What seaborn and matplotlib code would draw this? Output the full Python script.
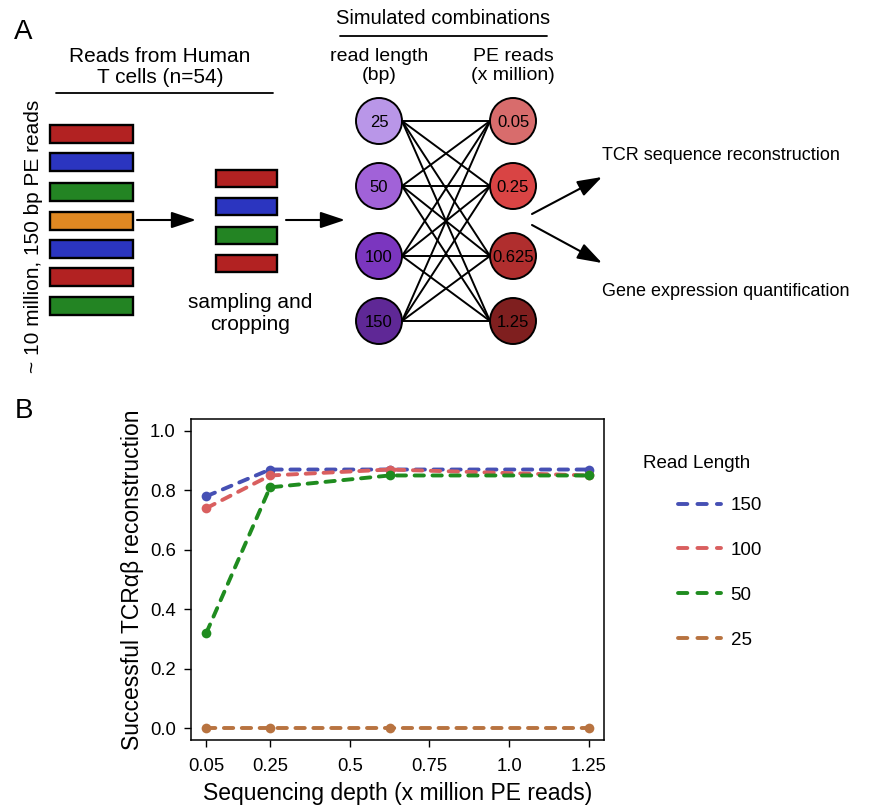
import numpy as np
import pandas as pd
import matplotlib
matplotlib.use("Agg")
import matplotlib.pyplot as plt
import seaborn as sns
from matplotlib.patches import Rectangle, Circle
from matplotlib.lines import Line2D

# ---- data ----
depth = [0.05, 0.25, 0.625, 1.25]
success_150 = [0.78, 0.87, 0.87, 0.87]
success_100 = [0.74, 0.85, 0.87, 0.85]
success_50 = [0.32, 0.81, 0.85, 0.85]
success_25 = [0.0, 0.0, 0.0, 0.0]
read_length_labels = ["150", "100", "50", "25"]
line_colors = ["#4650b4", "#d95f5f", "#1f8c1f", "#b87340"]
x_ticks = [0.05, 0.25, 0.5, 0.75, 1.0, 1.25]
x_tick_labels = ["0.05", "0.25", "0.5", "0.75", "1.0", "1.25"]
y_ticks = [0.0, 0.2, 0.4, 0.6, 0.8, 1.0]

# panel A diagram contents
sim_read_lengths = ["25", "50", "100", "150"]
sim_pe_reads = ["0.05", "0.25", "0.625", "1.25"]
length_colors = ["#b996e8", "#a162d8", "#7b36bf", "#5f2896"]
depth_colors = ["#d86c6c", "#d94444", "#b02e2e", "#7f1f1f"]
all_read_colors = ["#b22222", "#2b35c0", "#238423", "#df8822", "#2b35c0", "#b22222", "#238423"]
sampled_read_colors = ["#b22222", "#2b35c0", "#238423", "#b22222"]

sns.set_theme(style="ticks")
plt.rcParams["font.family"] = ["Liberation Sans", "DejaVu Sans"]
plt.rcParams.update({
    "text.color": "black",
    "axes.labelcolor": "black",
    "xtick.color": "black",
    "ytick.color": "black",
})

W, H = 877, 809
fig = plt.figure(figsize=(W / 100, H / 100), dpi=100)

# ---- panel A: schematic drawn in pixel coordinates ----
da = fig.add_axes([0, 0, 1, 1])
da.set_xlim(0, W)
da.set_ylim(H, 0)
da.axis("off")
da.patch.set_alpha(0)

da.text(23, 32, "A", fontsize=20, ha="center", va="center")
da.text(24, 411, "B", fontsize=20, ha="center", va="center")

da.text(160, 67, "Reads from Human\nT cells (n=54)", fontsize=15, ha="center",
        va="center", linespacing=1.15)
da.plot([56, 273], [93, 93], color="black", lw=1.3)
da.text(34, 236, "~ 10 million, 150 bp PE reads", fontsize=15, rotation=90,
        ha="center", va="center")

bar_tops = [125, 153, 183, 212, 240, 268, 297]
for top, c in zip(bar_tops, all_read_colors):
    da.add_patch(Rectangle((50, top), 83, 18, facecolor=c, edgecolor="black", lw=1.7))
samp_tops = [170, 198, 227, 255]
for top, c in zip(samp_tops, sampled_read_colors):
    da.add_patch(Rectangle((216, top), 61, 17, facecolor=c, edgecolor="black", lw=1.7))

arrow_kw = dict(arrowstyle="-|>,head_length=0.75,head_width=0.25", color="black",
                lw=1.5, mutation_scale=20, shrinkA=0, shrinkB=0)
da.annotate("", xy=(196, 220), xytext=(137, 220), arrowprops=arrow_kw)
da.annotate("", xy=(345, 220), xytext=(286, 220), arrowprops=arrow_kw)

da.text(250, 313, "sampling and\ncropping", fontsize=15, ha="center", va="center",
        linespacing=1.2)

da.text(443, 18, "Simulated combinations", fontsize=14.5, ha="center", va="center")
da.plot([340, 547], [36, 36], color="black", lw=1.3)
da.text(379, 66, "read length\n(bp)", fontsize=14, ha="center", va="center",
        linespacing=1.15)
da.text(513, 66, "PE reads\n(x million)", fontsize=14, ha="center", va="center",
        linespacing=1.15)

node_y = [121, 186, 256, 321]
lx, rx, r = 379, 513, 23
for yi in node_y:
    for yj in node_y:
        da.plot([lx + r, rx - r], [yi, yj], color="black", lw=1.4, zorder=1)
for yi, lab, c in zip(node_y, sim_read_lengths, length_colors):
    da.add_patch(Circle((lx, yi), r, facecolor=c, edgecolor="black", lw=1.4, zorder=2))
    da.text(lx, yi + 1, lab, fontsize=12, ha="center", va="center", zorder=3)
for yj, lab, c in zip(node_y, sim_pe_reads, depth_colors):
    da.add_patch(Circle((rx, yj), r, facecolor=c, edgecolor="black", lw=1.4, zorder=2))
    da.text(rx, yj + 1, lab, fontsize=12, ha="center", va="center", zorder=3)

da.annotate("", xy=(602, 177), xytext=(532, 214), arrowprops=arrow_kw)
da.annotate("", xy=(602, 263), xytext=(532, 225), arrowprops=arrow_kw)
da.text(602, 155, "TCR sequence reconstruction", fontsize=13, ha="left", va="center")
da.text(602, 292, "Gene expression quantification", fontsize=13, ha="left", va="center")

# ---- panel B: line chart ----
ax = fig.add_axes([191 / W, 1 - 740 / H, (604 - 191) / W, (740 - 419) / H])

df = pd.DataFrame({
    "depth": depth * 4,
    "success": success_150 + success_100 + success_50 + success_25,
    "length": np.repeat(read_length_labels, len(depth)),
})
palette = dict(zip(read_length_labels, line_colors))
dash = (2.4, 2.2)
sns.lineplot(data=df, x="depth", y="success", hue="length", hue_order=read_length_labels,
             style="length", style_order=read_length_labels,
             dashes={k: dash for k in read_length_labels},
             markers={k: "o" for k in read_length_labels},
             palette=palette, linewidth=2.8, markersize=7, markeredgewidth=0,
             legend=False, ax=ax)
for ln in ax.lines:
    ln.set_dash_capstyle("round")

ax.set_xlim(0.002, 1.298)
ax.set_ylim(-0.04, 1.04)
ax.set_xticks(x_ticks)
ax.set_xticklabels(x_tick_labels)
ax.set_yticks(y_ticks)
ax.set_yticklabels([f"{v:.1f}" for v in y_ticks])
ax.tick_params(axis="both", direction="out", length=5, width=1, colors="black",
               labelsize=13.3)
ax.tick_params(axis="x", pad=8)
ax.tick_params(axis="y", pad=6)
for sp in ax.spines.values():
    sp.set_visible(True)
    sp.set_linewidth(1.1)
    sp.set_color("black")
ax.set_xlabel("Sequencing depth (x million PE reads)", fontsize=16.5, labelpad=5)
ax.set_ylabel("Successful TCR\u03b1\u03b2 reconstruction", fontsize=16.5, labelpad=4)

# legend
fig.text(643 / W, 1 - 463 / H, "Read Length", fontsize=13.5, ha="left", va="center")
handles = [Line2D([], [], color=c, lw=2.8, dashes=(2.4, 2.6), dash_capstyle="round")
           for c in line_colors]
fig.legend(handles, read_length_labels, loc="upper left",
           bbox_to_anchor=(678 / W, 1 - 497 / H), frameon=False, fontsize=13.5,
           handlelength=2.3, handletextpad=0.5, labelspacing=1.48,
           borderpad=0, borderaxespad=0)

fig.savefig("out.png", dpi=100)
